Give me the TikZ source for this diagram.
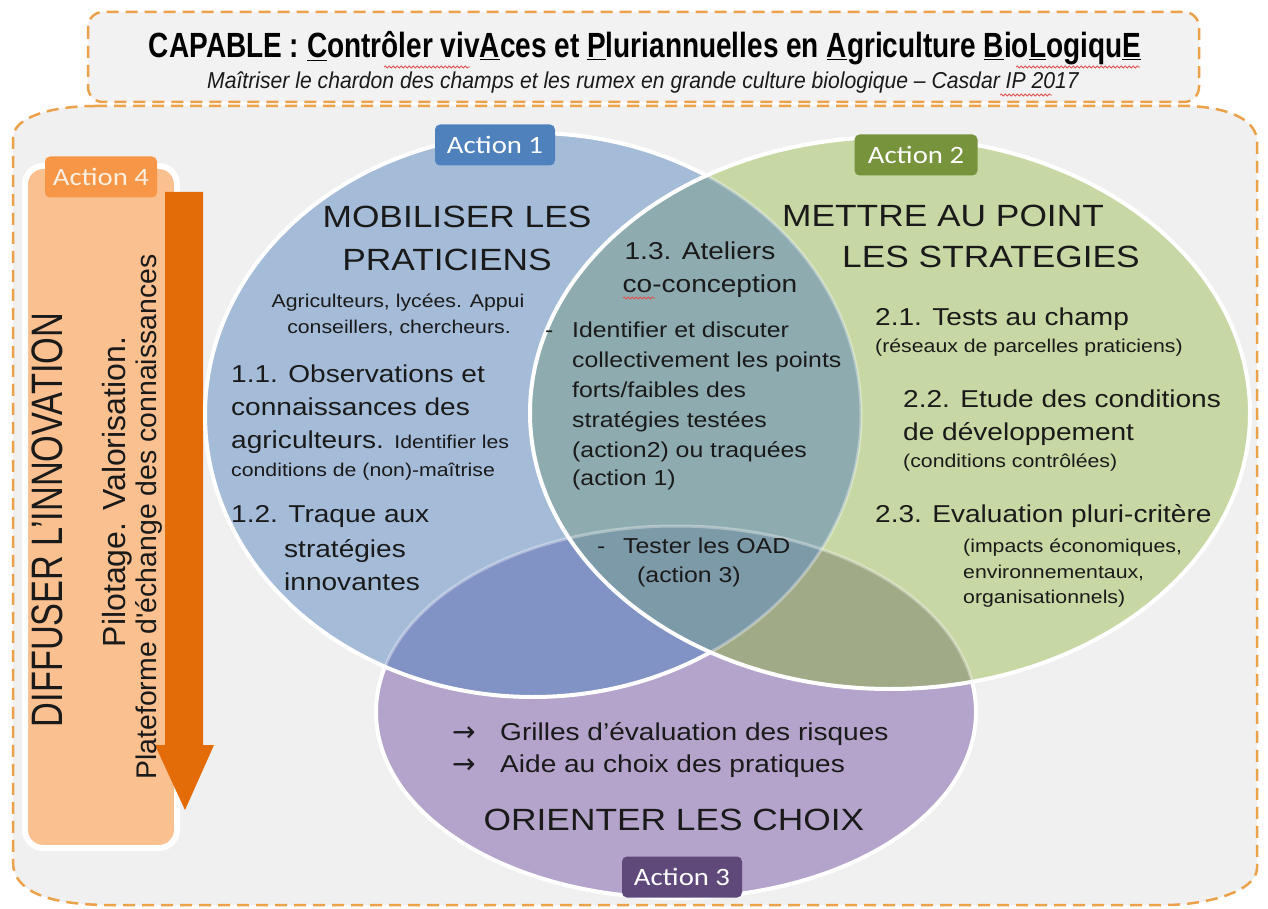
\documentclass[tikz,border=0pt]{standalone}
\usepackage{fontspec}
\setmainfont{Liberation Sans}
\newfontfamily\bodyf{Liberation Sans}[FakeStretch=1.15]
\newfontfamily\rotf{Liberation Sans}
\newfontfamily\rotbigf{Liberation Sans}[FakeStretch=0.78]
\newfontfamily\titlef{Liberation Sans}[FakeStretch=0.80]
\newfontfamily\subf{Liberation Sans}[FakeStretch=0.92]
\newfontfamily\actf{Carlito}[FakeStretch=1.15]
\newfontfamily\symf{DejaVu Sans}
\usetikzlibrary{decorations.pathmorphing}
\newcommand\fsz[1]{\fontsize{#1}{#1}\selectfont}
\definecolor{bgray}{HTML}{F0F0F0}
\definecolor{tgray}{HTML}{F2F2F2}
\definecolor{dashor}{HTML}{EBA24A}
\definecolor{cblue}{HTML}{A5BCD9}
\definecolor{cgreen}{HTML}{C8D8A4}
\definecolor{cpurple}{HTML}{B4A3CA}
\definecolor{cbg}{HTML}{8EACB0}
\definecolor{cbp}{HTML}{8192C4}
\definecolor{cgp}{HTML}{A1AA87}
\definecolor{cbgp}{HTML}{7D9AA8}
\definecolor{a1}{HTML}{4F81BD}
\definecolor{a2}{HTML}{77933C}
\definecolor{a3}{HTML}{5F497A}
\definecolor{a4}{HTML}{F79646}
\definecolor{panel}{HTML}{FAC090}
\definecolor{arrowor}{HTML}{E36C09}
\definecolor{txt}{HTML}{1A1A1A}
\definecolor{squig}{HTML}{E05050}
\tikzset{
  dashbox/.style={draw=dashor, line width=2.5pt, dash pattern=on 12pt off 7pt},
  actbox/.style={rounded corners=5pt, minimum width=#1, minimum height=41pt, inner sep=0pt, text=white, font=\actf\fsz{25}},
  big/.style={text=txt, inner sep=0pt, font=\bodyf\fsz{30.7}},
  mid/.style={text=txt, inner sep=0pt, font=\bodyf\fsz{24.4}},
  mtx/.style={text=txt, inner sep=0pt, font=\bodyf\fsz{21.6}},
  sml/.style={text=txt, inner sep=0pt, font=\bodyf\fsz{18.5}},
  arw/.style={text=txt, inner sep=0pt, font=\symf\fsz{28}},
  bw/.style={anchor=base west},
  bc/.style={anchor=base},
  spell/.style={draw=squig, line width=0.8pt, decorate, decoration={snake, segment length=4pt, amplitude=1pt}},
}
\begin{document}
\begin{tikzpicture}[x=1pt,y=-1pt]
\fill[white] (0,0) rectangle (1268,909);
\useasboundingbox (0,0) rectangle (1268,909);
% main frame
\draw[dashbox, fill=bgray] (95,106) -- (1190,106) .. controls (1230,108) and (1257,120) .. (1257,142)
  -- (1257,868) .. controls (1257,892) and (1205,905) .. (1165,905) -- (105,905)
  .. controls (45,904) and (13,890) .. (13,862) -- (13,138) .. controls (13,116) and (55,106) .. (95,106) -- cycle;
% title frame
\draw[dashbox, fill=tgray, rounded corners=15pt] (88,12) rectangle (1199,102);
\node[inner sep=0pt, font=\titlef\bfseries\fsz{35}, text=black, bc] (title) at (645,58)
  {CAPABLE : \underline{C}ontrôler viv\underline{A}ces et \underline{P}luriannuelles en \underline{A}griculture \underline{B}io\underline{L}ogiqu\underline{E}};
\node[inner sep=0pt, font=\subf\itshape\fsz{23}, text=txt, bc] (subtitle) at (643,89)
  {Maîtriser le chardon des champs et les rumex en grande culture biologique – Casdar IP 2017};
\draw[spell] (384,67) -- (470,67);
\draw[spell] (1016,67) -- (1140,67);
\draw[spell] (1000,95) -- (1052,95);
% Action 4 panel
\draw[white, line width=6pt, fill=panel, rounded corners=18pt] (25,166) rectangle (177,848);
\fill[arrowor] (165,192) -- (203,192) -- (203,745) -- (214,745) -- (185,810) -- (155,745) -- (165,745) -- cycle;
\node[actbox=112pt, fill=a4, text=white!85!a4] (act4) at (101,177) {Action 4};
\node[rotate=90, bc, inner sep=0pt, text=txt, font=\rotbigf\fsz{44}] (diff) at (62,520) {DIFFUSER L’INNOVATION};
\node[rotate=90, bc, inner sep=0pt, text=txt, font=\rotf\fsz{32}] (pilot) at (125,492) {Pilotage. Valorisation.};
\node[rotate=90, bc, inner sep=0pt, text=txt, font=\rotf\fsz{28.4}] (plat) at (156,517) {Plateforme d'échange des connaissances};
% ellipses
\def\Ep{(676,712) ellipse [x radius=300, y radius=186]}
\def\Eb{(533,415) ellipse [x radius=328, y radius=282]}
\def\Eg{(890,413) ellipse [x radius=360, y radius=276]}
\fill[cpurple] \Ep;
\draw[white, line width=4pt] \Ep;
\fill[cblue] \Eb;
\begin{scope}
  \clip \Eb;
  \fill[cbp] \Ep;
  \draw[white, line width=3pt, opacity=0.35] \Ep;
\end{scope}
\draw[white, line width=4pt] \Eb;
\fill[cgreen] \Eg;
\begin{scope}
  \clip \Eg;
  \fill[cbg] \Eb;
  \fill[cgp] \Ep;
  \begin{scope}
    \clip \Eb;
    \fill[cbgp] \Ep;
  \end{scope}
  \draw[white, line width=3pt, opacity=0.35] \Ep;
  \draw[white, line width=3pt, opacity=0.35] \Eb;
\end{scope}
\draw[white, line width=4pt] \Eg;
% action labels
\node[actbox=120pt, fill=a1] (act1) at (495,145) {Action 1};
\node[actbox=123pt, fill=a2] (act2) at (916,155) {Action 2};
\node[actbox=120pt, fill=a3] (act3) at (682,877) {Action 3};
% blue texts
\node[big, bc] (mob1) at (457,228) {MOBILISER LES};
\node[big, bc] (mob2) at (447,270) {PRATICIENS};
\node[sml, bc] (agr1) at (398,307) {Agriculteurs, lycées. Appui};
\node[sml, bc] (agr2) at (399,333) {conseillers, chercheurs.};
\node[mid, bw] (o1) at (231,382) {1.1. Observations et};
\node[mid, bw] (o2) at (231,415) {connaissances des};
\node[mid, bw] (o3) at (231,448) {agriculteurs. {\fsz{18.5}Identifier les}};
\node[sml, bw] (o4) at (231,476) {conditions de (non)-maîtrise};
\node[mid, bw] (t1) at (231,522) {1.2. Traque aux};
\node[mid, bw] (t2) at (284,557) {stratégies};
\node[mid, bw] (t3) at (284,590) {innovantes};
% teal texts
\node[mid, bc] (at1) at (700,260) {1.3. Ateliers};
\node[mid, bc] (at2) at (710,292) {co-conception};
\draw[spell] (623,298) -- (655,298);
\node[mtx, bw] (d1) at (545,337) {-};
\node[mtx, bw] (i1) at (572,337) {Identifier et discuter};
\node[mtx, bw] (i2) at (572,367) {collectivement les points};
\node[mtx, bw] (i3) at (572,397) {forts/faibles des};
\node[mtx, bw] (i4) at (572,427) {stratégies testées};
\node[mtx, bw] (i5) at (572,457) {(action2) ou traquées};
\node[mtx, bw] (i6) at (572,485) {(action 1)};
\node[mtx, bw] (d2) at (597,553) {-};
\node[mtx, bw] (te1) at (623,553) {Tester les OAD};
\node[mtx, bw] (te2) at (637,582) {(action 3)};
% green texts
\node[big, bw] (me1) at (782,227) {METTRE AU POINT};
\node[big, bw] (me2) at (842,267) {LES STRATEGIES};
\node[mid, bw] (g1) at (875,325) {2.1. Tests au champ};
\node[sml, bw] (g2) at (875,352) {(réseaux de parcelles praticiens)};
\node[mid, bw] (g3) at (903,407) {2.2. Etude des conditions};
\node[mid, bw] (g4) at (903,440) {de développement};
\node[sml, bw] (g5) at (903,467) {(conditions contrôlées)};
\node[mid, bw] (g6) at (875,522) {2.3. Evaluation pluri-critère};
\node[sml, bw] (g7) at (963,552) {(impacts économiques,};
\node[sml, bw] (g8) at (963,578) {environnementaux,};
\node[sml, bw] (g9) at (963,603) {organisationnels)};
% purple texts
\node[arw, bw] (ar1) at (452,741) {→};
\node[mid, bw] (p1) at (500,740) {Grilles d’évaluation des risques};
\node[arw, bw] (ar2) at (452,773) {→};
\node[mid, bw] (p2) at (500,772) {Aide au choix des pratiques};
\node[big, bc] (ori) at (674,830) {ORIENTER LES CHOIX};
\end{tikzpicture}
\end{document}
